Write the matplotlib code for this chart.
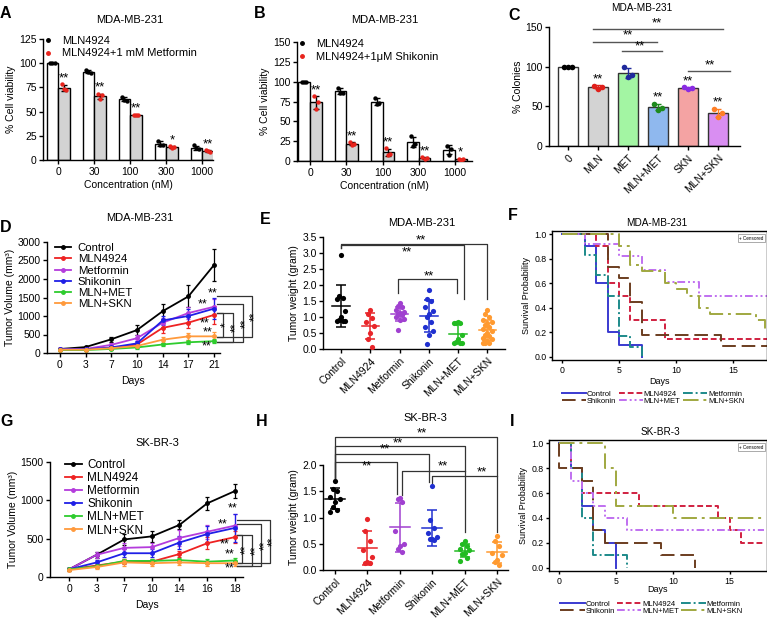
import numpy as np
import matplotlib
matplotlib.use("Agg")
import matplotlib.pyplot as plt
from matplotlib.lines import Line2D

plt.rcParams['font.family'] = ['Liberation Sans', 'DejaVu Sans']
plt.rcParams['font.size'] = 7.5
plt.rcParams['axes.linewidth'] = 1.0
plt.rcParams['xtick.major.width'] = 1.0
plt.rcParams['ytick.major.width'] = 1.0
plt.rcParams['xtick.major.size'] = 3
plt.rcParams['ytick.major.size'] = 3
plt.rcParams['xtick.major.pad'] = 2
plt.rcParams['ytick.major.pad'] = 1.5

# ---------------- data ----------------
conc_labels = ['0', '30', '100', '300', '1000']
a_mln_pts = [[100, 100, 100], [93, 91, 90], [65, 62, 61], [20, 15, 16], [15, 12, 11]]
a_met_pts = [[78, 73, 72], [68, 63, 67], [47, 46, 46], [14, 12, 13], [10, 9, 8]]
a_stars = ['**', '**', '**', '*', '**']
b_mln_pts = [[100, 100, 100], [92, 86, 86], [80, 72, 73], [31, 19, 22], [19, 8, 15]]
b_skn_pts = [[82, 66, 74], [24, 20, 22], [16, 8, 9], [5, 3, 4], [3, 1, 2]]
b_stars = ['**', '**', '**', '**', '*']

c_labels = ['0', 'MLN', 'MET', 'MLN+MET', 'SKN', 'MLN+SKN']
c_pts = [[100, 100, 100], [76, 72, 75], [99, 87, 90], [53, 46, 48], [74, 72, 73], [47, 37, 42]]
c_face = ['white', '#d3d3d3', '#a3f5a3', '#8fb8ee', '#f4a3a3', '#d98ef2']
c_dot = ['black', '#e0201b', '#1f2a9c', '#1e8a1e', '#8a2be2', '#ff7f27']

groups = ['Control', 'MLN4924', 'Metformin', 'Shikonin', 'MLN+MET', 'MLN+SKN']
line_colors = ['black', '#ee2222', '#b43cdc', '#1f1fe6', '#2ecc2e', '#ff9a3c']

d_days = ['0', '3', '7', '10', '14', '17', '21']
d_ctrl = [108, 160, 370, 620, 1130, 1530, 2380]
d_mln = [100, 100, 130, 230, 680, 820, 1030]
d_met = [100, 110, 220, 400, 820, 1080, 1250]
d_skn = [100, 100, 150, 260, 880, 1000, 1200]
d_mlnmet = [80, 80, 110, 150, 230, 290, 320]
d_mlnskn = [90, 90, 130, 190, 360, 450, 450]
d_ctrl_err = [20, 30, 60, 130, 200, 300, 430]
d_mln_err = [15, 15, 30, 50, 150, 150, 250]
d_met_err = [15, 20, 40, 80, 120, 150, 200]
d_skn_err = [15, 15, 30, 60, 120, 180, 280]
d_mlnmet_err = [10, 10, 20, 30, 50, 60, 60]
d_mlnskn_err = [10, 10, 20, 40, 80, 100, 130]

g_days = ['0', '3', '7', '10', '14', '16', '18']
g_ctrl = [100, 290, 490, 530, 680, 960, 1120]
g_mln = [100, 150, 200, 200, 300, 440, 520]
g_met = [100, 290, 380, 390, 510, 590, 670]
g_skn = [100, 190, 310, 310, 450, 560, 640]
g_mlnmet = [100, 140, 210, 210, 220, 200, 215]
g_mlnskn = [90, 130, 190, 180, 190, 180, 180]
g_ctrl_err = [20, 40, 70, 70, 60, 80, 90]
g_mln_err = [15, 20, 30, 30, 40, 80, 80]
g_met_err = [15, 40, 60, 60, 100, 90, 150]
g_skn_err = [15, 30, 50, 50, 80, 100, 180]
g_mlnmet_err = [10, 20, 30, 30, 30, 30, 30]
g_mlnskn_err = [10, 20, 40, 30, 30, 30, 30]

dot_colors = ['black', '#e8262a', '#a040d0', '#2030d0', '#22bb22', '#ff9a30']
e_ctrl = [2.95, 1.65, 1.6, 1.55, 1.2, 1.0, 0.9, 0.88, 0.88, 0.88]
e_mln = [1.22, 1.1, 0.97, 0.85, 0.72, 0.5, 0.3, 0.05]
e_met = [1.45, 1.35, 1.3, 1.22, 1.15, 1.12, 1.08, 1.05, 1.0, 0.95, 0.9, 0.6]
e_skn = [1.85, 1.55, 1.5, 1.3, 1.2, 1.1, 1.0, 0.85, 0.7, 0.55, 0.45, 0.15]
e_mlnmet = [0.85, 0.82, 0.82, 0.8, 0.45, 0.3, 0.22, 0.2, 0.18, 0.18]
e_mlnskn = [1.22, 1.1, 1.0, 0.92, 0.85, 0.8, 0.75, 0.7, 0.62, 0.55, 0.5, 0.45, 0.4,
            0.35, 0.3, 0.25, 0.2, 0.2, 0.18]

h_ctrl = [1.7, 1.55, 1.5, 1.4, 1.35, 1.3, 1.2, 1.15, 1.1]
h_mln = [0.98, 0.75, 0.55, 0.38, 0.25, 0.15, 0.13, 0.13]
h_met = [1.38, 1.36, 1.3, 0.75, 0.5, 0.45, 0.4, 0.35]
h_skn = [1.6, 0.95, 0.8, 0.7, 0.62, 0.6, 0.6, 0.58]
h_mlnmet = [0.55, 0.5, 0.45, 0.4, 0.38, 0.33, 0.3, 0.22, 0.18]
h_mlnskn = [0.65, 0.55, 0.45, 0.32, 0.28, 0.2, 0.15, 0.1]

km_colors = ['#3a3ad0', '#d02040', '#1d8a8a', '#6b3d1f', '#c070f0', '#a0a840']
km_styles = ['-', (0, (3, 1.5)), (0, (5, 1.5, 1, 1.5)), (0, (7, 3)),
             (0, (4, 1.5, 1, 1.5, 1, 1.5)), (0, (8, 2.5, 1.5, 2.5))]
f_t = [[0, 2, 3, 4, 5, 7],
       [0, 3, 4, 5, 6, 9, 18],
       [0, 2, 3, 4, 5, 6, 7],
       [0, 4, 5, 6, 7, 14, 18],
       [0, 2, 5, 7, 9, 12, 18],
       [0, 5, 6, 7, 9, 10, 11, 12, 13, 17, 17.8, 18]]
f_s = [[1.0, 0.9, 0.6, 0.2, 0.1, 0.0],
       [1.0, 0.9, 0.6, 0.5, 0.3, 0.15, 0.15],
       [1.0, 0.83, 0.67, 0.5, 0.17, 0.08, 0.0],
       [1.0, 0.73, 0.64, 0.45, 0.18, 0.09, 0.09],
       [1.0, 0.92, 0.82, 0.71, 0.61, 0.5, 0.5],
       [1.0, 0.9, 0.75, 0.7, 0.6, 0.55, 0.5, 0.4, 0.35, 0.3, 0.22, 0.22]]
i_t = [[0, 1, 2, 3, 4, 5],
       [0, 1, 2, 7, 14, 15, 16, 18],
       [0, 1, 2, 3, 6],
       [0, 0, 2, 3, 4, 9, 12],
       [0, 1, 2, 3, 4, 6, 18],
       [0, 4, 5, 10, 18]]
i_s = [[1.0, 0.8, 0.5, 0.3, 0.2, 0.0],
       [1.0, 0.8, 0.6, 0.5, 0.4, 0.3, 0.2, 0.2],
       [1.0, 0.8, 0.4, 0.1, 0.0],
       [1.0, 0.8, 0.7, 0.3, 0.2, 0.1, 0.0],
       [1.0, 0.7, 0.6, 0.5, 0.4, 0.3, 0.3],
       [1.0, 0.8, 0.5, 0.4, 0.4]]

# ---------------- figure ----------------
W, H = 767, 620
fig = plt.figure(figsize=(W / 100, H / 100), dpi=100)


def box(l, t, r, b):  # axes from pixel box
    return fig.add_axes([l / W, 1 - b / H, (r - l) / W, (b - t) / H])


def clean(ax):
    ax.spines['top'].set_visible(False)
    ax.spines['right'].set_visible(False)


def ptext(x, y, s, **kw):  # text at pixel position
    fig.text(x / W, 1 - y / H, s, **kw)


def star(ax, x, y, s, size=9.5):
    ax.text(x, y, s, ha='center', va='center', fontsize=size, clip_on=False)


def viability(ax, mln_pts, combo_pts, stars, combo_label, ymax, step):
    x = np.arange(len(conc_labels))
    w = 0.32
    for pts, off, face, dot in [(mln_pts, -w / 2, 'white', 'black'),
                                (combo_pts, w / 2, '#d3d3d3', '#e8231c')]:
        pts = np.array(pts, dtype=float)
        m = pts.mean(axis=1)
        sd = pts.std(axis=1, ddof=1)
        ax.bar(x + off, m, w, color=face, edgecolor='black', linewidth=1, zorder=1)
        ax.errorbar(x + off, m, yerr=sd, fmt='none', ecolor='black', elinewidth=1,
                    capsize=2, capthick=1, zorder=2)
        for i in range(len(x)):
            ax.scatter(x[i] + off + np.array([-0.06, 0, 0.06]), pts[i], s=10,
                       color=dot, zorder=3, linewidths=0)
        if dot != 'black':
            for i in range(len(x)):
                star(ax, x[i] + off, max(m[i] + sd[i], pts[i].max()) + ymax * 0.05, stars[i])
    ax.set_ylim(0, ymax)
    ax.set_yticks(np.arange(0, ymax + 1, step))
    ax.set_xticks(x)
    ax.set_xticklabels(conc_labels)
    ax.set_ylabel('% Cell viability', labelpad=2)
    ax.set_xlabel('Concentration (nM)', labelpad=2)
    h = [Line2D([], [], marker='o', ls='', color='black', ms=2.5),
         Line2D([], [], marker='o', ls='', color='#e8231c', ms=2.5)]
    ax.legend(h, ['MLN4924', combo_label], loc='upper left', bbox_to_anchor=(-0.02, 1.06),
              frameon=False, handlelength=0.8, handletextpad=0.8, borderaxespad=0,
              labelspacing=0.2, fontsize=8)
    clean(ax)


# A
ax = box(43, 39, 213, 160)
ax.set_xlim(-0.42, 4.3)
viability(ax, a_mln_pts, a_met_pts, a_stars, 'MLN4924+1 mM Metformin', 125, 25)
# B
ax = box(297, 42, 472, 161)
ax.set_xlim(-0.36, 4.47)
viability(ax, b_mln_pts, b_skn_pts, b_stars, 'MLN4924+1\u03bcM Shikonin', 150, 25)

# C
ax = box(549, 27, 740, 146)
x = np.arange(len(c_labels))
for i in range(len(x)):
    pts = np.array(c_pts[i], dtype=float)
    m, sd = pts.mean(), pts.std(ddof=1)
    ax.bar(x[i], m, 0.66, color=c_face[i], edgecolor='#333333', linewidth=1, zorder=1)
    ax.errorbar(x[i], m, yerr=sd, fmt='none', ecolor=c_dot[i], elinewidth=1, capsize=2.5,
                capthick=1, zorder=2)
    ax.scatter(x[i] + np.array([-0.12, 0, 0.12]), pts, s=16, color=c_dot[i], zorder=3, lw=0)
for xx, yy in [(1, 84), (3, 61), (4, 82), (5, 55)]:
    star(ax, xx, yy, '**')
for x1, x2, yy, lx, ly in [(0.83, 5.17, 147, 2.97, 155), (0.83, 2.97, 131, 2.0, 139),
                           (1.8, 3.13, 120, 2.4, 125), (4.0, 5.4, 94, 4.73, 101)]:
    ax.plot([x1, x2], [yy, yy], color='#555555', lw=1, clip_on=False)
    star(ax, lx, ly, '**')
ax.set_xlim(-0.63, 5.73)
ax.set_ylim(0, 150)
ax.set_yticks([0, 50, 100, 150])
ax.set_xticks(x)
ax.set_xticklabels(c_labels, rotation=45, ha='right', rotation_mode='anchor')
ax.set_ylabel('% Colonies', labelpad=2)
clean(ax)


def growth(ax, days, series, errs, ymax, step, leg_anchor, leg_size, hl, hp):
    x = np.arange(len(days))
    for y, e, c in zip(series, errs, line_colors):
        ax.errorbar(x, y, yerr=e, color=c, marker='o', ms=2.5, lw=1.3, elinewidth=0.9,
                    capsize=1.5, capthick=0.9)
    ax.set_ylim(0, ymax)
    ax.set_yticks(np.arange(0, ymax + 1, step))
    ax.set_xticks(x)
    ax.set_xticklabels(days)
    ax.set_xlabel('Days')
    ax.set_ylabel('Tumor Volume (mm\u00b3)', labelpad=2)
    h = [Line2D([], [], color=c, marker='o', ms=2.5, lw=1.3) for c in line_colors]
    ax.legend(h, groups, loc='upper left', bbox_to_anchor=leg_anchor, frameon=False,
              handlelength=hl, handletextpad=hp, borderaxespad=0, labelspacing=0.1,
              fontsize=leg_size)
    clean(ax)


def brackets(ax, x0, specs):
    for xv, y1, y2, lab in specs:
        ax.plot([x0, xv, xv, x0], [y1, y1, y2, y2], color='#333333', lw=0.9, clip_on=False)
        ax.text(xv + 0.12, (y1 + y2) / 2, lab, rotation=90, ha='center', va='center',
                fontsize=8.5, clip_on=False)


# D
ax = box(47, 242, 220, 353)
growth(ax, d_days, [d_ctrl, d_mln, d_met, d_skn, d_mlnmet, d_mlnskn],
       [d_ctrl_err, d_mln_err, d_met_err, d_skn_err, d_mlnmet_err, d_mlnskn_err],
       3000, 500, (0.02, 1.03), 8.2, 1.4, 0.6)
ax.set_xlim(-0.5, 6.23)
for xx, yy in [(5.95, 1600), (5.56, 1300), (5.64, 790), (5.76, 550), (5.72, 170)]:
    star(ax, xx, yy, '**', 9)
brackets(ax, 6.11, [(6.34, 1080, 432, '*'), (6.73, 1080, 297, '**'),
                    (7.12, 1324, 297, '**'), (7.47, 1540, 432, '**')])

# G
ax = box(50, 462, 243, 577)
growth(ax, g_days, [g_ctrl, g_mln, g_met, g_skn, g_mlnmet, g_mlnskn],
       [g_ctrl_err, g_mln_err, g_met_err, g_skn_err, g_mlnmet_err, g_mlnskn_err],
       1500, 500, (0.052, 1.07), 8.5, 1.45, 0.45)
ax.set_xlim(-0.69, 6.3)
for xx, yy in [(5.92, 900), (5.56, 680), (5.63, 430), (5.81, 300), (5.81, 107)]:
    star(ax, xx, yy, '**', 9)
brackets(ax, 6.1, [(6.28, 548, 183, '**'), (6.64, 548, 143, '**'),
                   (6.97, 691, 143, '**'), (7.26, 743, 183, '**')])


def weights(ax, data, ymax):
    pattern = np.array([0, -1, 1, -2, 2])
    for i, (pts, c) in enumerate(zip(data, dot_colors)):
        pts = np.array(pts, dtype=float)
        offs = pattern[np.arange(len(pts)) % 5] * 0.07
        ax.scatter(i + offs, pts, s=14, color=c, lw=0, zorder=3)
        m, sd = pts.mean(), pts.std(ddof=1)
        ax.plot([i - 0.3, i + 0.3], [m, m], color=c, lw=1.1, zorder=2)
        ax.errorbar(i, m, yerr=sd, fmt='none', ecolor=c, elinewidth=1.1, capsize=3.5,
                    capthick=1.1, zorder=2)
    ax.set_ylim(0, ymax)
    ax.set_yticks(np.arange(0, ymax + 0.01, 0.5))
    ax.set_yticklabels(['%.1f' % v for v in np.arange(0, ymax + 0.01, 0.5)])
    ax.set_xticks(range(len(groups)))
    ax.set_xticklabels(groups, rotation=45, ha='right', rotation_mode='anchor')
    ax.set_ylabel('Tumor weight (gram)', labelpad=2)
    clean(ax)


def link(ax, x1, x2, y, d1, d2):
    ax.plot([x1, x1, x2, x2], [d1, y, y, d2], color='#333333', lw=0.9, clip_on=False)


# E
ax = box(323, 237, 505, 349)
weights(ax, [e_ctrl, e_mln, e_met, e_skn, e_mlnmet, e_mlnskn], 3.5)
ax.set_xlim(-0.62, 5.6)
link(ax, 0, 5.0, 3.29, 3.15, 1.55)
link(ax, 0, 4.2, 3.24, 3.15, 1.55)
link(ax, 1.95, 3.97, 2.18, 1.75, 1.75)
star(ax, 2.74, 3.4, '**')
star(ax, 2.26, 3.03, '**')
star(ax, 3.0, 2.28, '**')

# H
ax = box(323, 465, 508, 570)
weights(ax, [h_ctrl, h_mln, h_met, h_skn, h_mlnmet, h_mlnskn], 2.0)
ax.set_xlim(-0.37, 5.34)
link(ax, 0, 5.0, 2.53, 1.75, 0.72)
link(ax, 0, 4.0, 2.36, 1.75, 0.73)
link(ax, 0, 2.9, 2.21, 1.75, 1.67)
link(ax, 0, 1.9, 2.06, 1.75, 1.45)
link(ax, 2.08, 4.0, 1.89, 1.43, 1.89)
link(ax, 3.0, 5.0, 1.79, 1.6, 1.79)
for xx, yy in [(2.68, 2.6), (1.95, 2.41), (1.54, 2.3), (0.98, 1.98), (3.33, 1.98), (4.53, 1.85)]:
    star(ax, xx, yy, '**')


def km(ax, ts, ss, xmax, leg_y):
    for t, s, c, st, name in zip(ts, ss, km_colors, km_styles, groups):
        ax.step(t, s, where='post', color=c, lw=1.4, linestyle=st, label=name)
    ax.set_xlim(-0.9, xmax)
    ax.set_ylim(-0.025, 1.025)
    ax.set_xticks([0, 5, 10, 15])
    ax.set_yticks(np.arange(0, 1.01, 0.2))
    ax.set_yticklabels(['%.1f' % v for v in np.arange(0, 1.01, 0.2)])
    ax.tick_params(labelsize=6.3, length=2.5)
    ax.set_ylabel('Survival Probability', fontsize=6.5, labelpad=2)
    ax.text(0.985, 0.965, '+ Censored', transform=ax.transAxes, fontsize=3.3, ha='right',
            va='top', bbox=dict(boxstyle='square,pad=0.3', fc='white', ec='#888888', lw=0.5))
    hs, ls = ax.get_legend_handles_labels()
    order = [0, 3, 1, 4, 2, 5]
    ax.legend([hs[k] for k in order], [ls[k] for k in order], loc='upper center',
              bbox_to_anchor=(0.47, leg_y), ncol=3, fontsize=5.5, frameon=False,
              handlelength=3.2, columnspacing=0.3, handletextpad=0.1, labelspacing=0.0,
              borderaxespad=0, borderpad=0)


# F
ax = box(552, 231, 767, 360)
km(ax, f_t, f_s, 18, -0.235)
ax.set_xlabel('Days', fontsize=6.5, labelpad=1)

# I
ax = box(549, 440, 767, 571)
km(ax, i_t, i_s, 18.3, -0.225)
ax.set_xlabel('Days', fontsize=6.5, labelpad=-1)

# titles and panel letters
for x, y, s in [(130, 20, 'MDA-MB-231'), (385, 20, 'MDA-MB-231'), (642, 8, 'MDA-MB-231'),
                (140, 218, 'MDA-MB-231'), (422, 223, 'MDA-MB-231'), (657, 223, 'MDA-MB-231'),
                (157, 443, 'SK-BR-3'), (425, 418, 'SK-BR-3'), (660, 432, 'SK-BR-3')]:
    ptext(x, y, s, ha='center', va='center', fontsize=8 if x < 550 else 7.2)
for x, y, s in [(5, 13, 'A'), (260, 13, 'B'), (514, 15, 'C'), (6, 228, 'D'), (265, 220, 'E'),
                (513, 215, 'F'), (7, 422, 'G'), (262, 422, 'H'), (512, 422, 'I')]:
    ptext(x, y, s, ha='center', va='center', fontsize=11.5, fontweight='bold')

fig.savefig('out.png', dpi=100)
